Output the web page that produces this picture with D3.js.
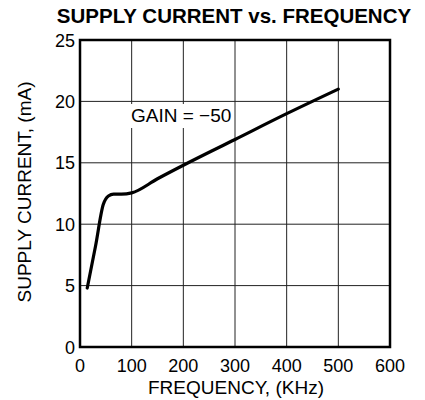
<!DOCTYPE html>
<html>
<head>
<meta charset="utf-8">
<script src="https://cdn.jsdelivr.net/npm/d3@7/dist/d3.min.js"></script>
<style>
  html, body { margin: 0; padding: 0; background: #fff; }
  svg { display: block; font-family: "Liberation Sans", Arial, Helvetica, sans-serif; }
</style>
</head>
<body>
<svg id="chart" width="425" height="400"></svg>
<script>
const frequency = [14, 30, 45, 55, 65, 80, 100, 150, 200, 300, 400, 500];
const current   = [4.8, 8.2, 11.6, 12.3, 12.45, 12.45, 12.55, 13.7, 14.8, 16.9, 19.0, 21.0];
const xTicks = [0, 100, 200, 300, 400, 500, 600];
const yTicks = [0, 5, 10, 15, 20, 25];
const title = "SUPPLY CURRENT vs. FREQUENCY";
const xLabel = "FREQUENCY, (KHz)";
const yLabel = "SUPPLY CURRENT, (mA)";
const annotation = "GAIN = \u221250";

const svg = d3.select("#chart");
const L = 80, R = 390, T = 40, B = 347;
const x = d3.scaleLinear().domain([0, 600]).range([L, R]);
const y = d3.scaleLinear().domain([0, 25]).range([B, T]);

// grid
const g = svg.append("g");
g.selectAll("line.vx").data(xTicks.slice(1, -1)).enter().append("line")
  .attr("x1", d => x(d)).attr("x2", d => x(d)).attr("y1", T).attr("y2", B)
  .attr("stroke", "#222").attr("stroke-width", 1);
g.selectAll("line.hy").data(yTicks.slice(1, -1)).enter().append("line")
  .attr("y1", d => y(d)).attr("y2", d => y(d)).attr("x1", L).attr("x2", R)
  .attr("stroke", "#222").attr("stroke-width", 1);

// annotation box (covers grid)
svg.append("rect").attr("x", 128).attr("y", 104).attr("width", 106).attr("height", 24).attr("fill", "#fff");

// frame
svg.append("rect").attr("x", L).attr("y", T).attr("width", R - L).attr("height", B - T)
  .attr("fill", "none").attr("stroke", "#000").attr("stroke-width", 2.5);

// axes tick labels
svg.selectAll("text.xt").data(xTicks).enter().append("text")
  .attr("x", d => x(d)).attr("y", 372).attr("text-anchor", "middle")
  .attr("font-size", 18).text(d => d);
svg.selectAll("text.yt").data(yTicks).enter().append("text")
  .attr("x", 75).attr("y", d => y(d) + 6.5).attr("text-anchor", "end")
  .attr("font-size", 18).text(d => d);

// line
const line = d3.line().x((d, i) => x(frequency[i])).y((d, i) => y(current[i])).curve(d3.curveMonotoneX);
svg.append("path").datum(current).attr("d", line)
  .attr("fill", "none").attr("stroke", "#000").attr("stroke-width", 3.2)
  .attr("stroke-linecap", "round").attr("stroke-linejoin", "round");

// annotation text
svg.append("text").attr("x", 131).attr("y", 122).attr("font-size", 19).text(annotation);

// labels
svg.append("text").attr("x", 234).attr("y", 23).attr("text-anchor", "middle")
  .attr("font-size", 20.5).attr("font-weight", "bold").text(title);
svg.append("text").attr("x", 236).attr("y", 394).attr("text-anchor", "middle")
  .attr("font-size", 19).text(xLabel);
svg.append("text").attr("transform", "translate(31,192) rotate(-90)").attr("text-anchor", "middle")
  .attr("font-size", 19).text(yLabel);
</script>
</body>
</html>
